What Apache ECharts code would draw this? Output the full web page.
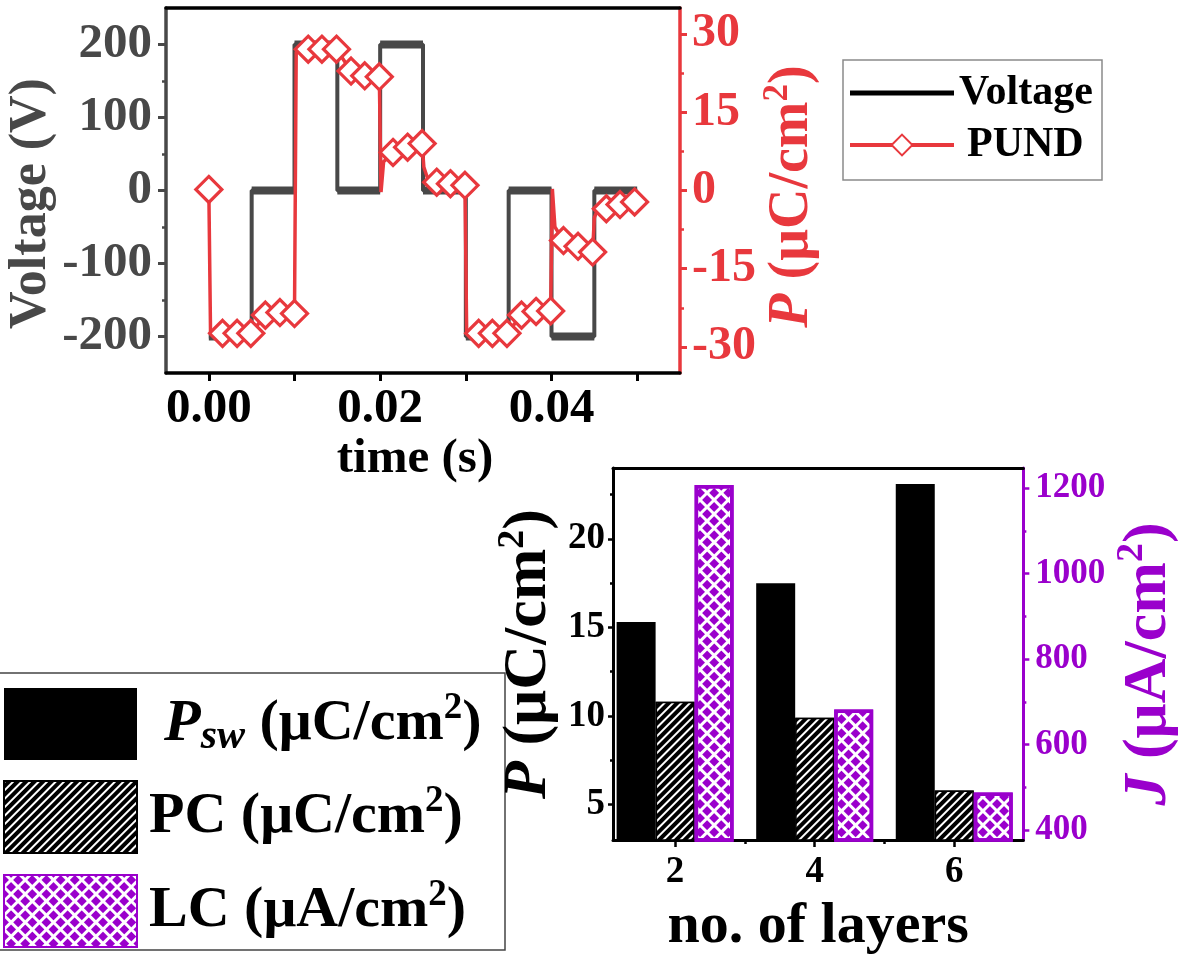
<!DOCTYPE html>
<html><head><meta charset="utf-8">
<script src="https://cdn.jsdelivr.net/npm/echarts@6/dist/echarts.min.js"></script>
<style>html,body{margin:0;padding:0;background:#fff}#c{width:1181px;height:959px}</style>
</head><body><div id="c"></div>
<script>
const FONT = 'Liberation Serif';
const GRAY = '#484848', RED = '#e8383d', PURPLE = '#9a00cc';

// ---- Top panel: PUND measurement ----
const timeTicks = [0, 0.01, 0.02, 0.03, 0.04, 0.05];
const timeLabels = [0, 0.02, 0.04];
const voltMajor = [-200, -100, 0, 100, 200];
const voltMinor = [-150, -50, 50, 150];
const polMajor = [-30, -15, 0, 15, 30];
const polMinor = [-22.5, -7.5, 7.5, 22.5];
const voltT = [0, 0.005, 0.005, 0.010, 0.010, 0.015, 0.015, 0.020, 0.020, 0.025, 0.025, 0.030, 0.030, 0.035, 0.035, 0.040, 0.040, 0.045, 0.045, 0.050];
const voltV = [-200, -200, 0, 0, 200, 200, 0, 0, 200, 200, 0, 0, -200, -200, 0, 0, -200, -200, 0, 0];
const pundT = [0, 0.0002, 0.0016, 0.0033, 0.0049, 0.0066, 0.0083, 0.0100, 0.0102, 0.0116, 0.0132, 0.0149, 0.0166, 0.0182, 0.0199, 0.0201, 0.0204, 0.0215, 0.0232, 0.0249, 0.0251, 0.0255, 0.0266, 0.0282, 0.0299, 0.0301, 0.0315, 0.0331, 0.0348, 0.0365, 0.0382, 0.0399, 0.0401, 0.0404, 0.0414, 0.0431, 0.0448, 0.0450, 0.0453, 0.0464, 0.0480, 0.0497];
const pundP = [0.2, -27.4, -27.4, -27.4, -27.4, -23.9, -23.4, -23.6, 26.6, 27.1, 27.1, 27.1, 22.9, 22.0, 21.8, -0.3, 5.5, 7.3, 8.3, 9.0, 4.5, 2.5, 1.6, 1.3, 1.0, -27.4, -27.4, -27.4, -27.4, -23.9, -23.2, -23.1, 0.3, -7.0, -9.6, -10.7, -11.8, -5.2, -4.0, -3.5, -2.7, -2.2];
const pundMark = [1,0,1,1,1,1,1,1,0,1,1,1,1,1,1,0,0,1,1,1,0,0,1,1,1,0,1,1,1,1,1,1,0,0,1,1,1,0,0,1,1,1];

// ---- Bottom panel: layers ----
const layers = [2, 4, 6];
const layerMinor = [3, 5];
const pswVals = [15.3, 17.5, 23.1];
const pcVals = [10.8, 9.9, 5.8];
const lcVals = [1207, 682, 488];
const pMajor = [5, 10, 15, 20];
const pMinor = [7.5, 12.5, 17.5, 22.5];
const jMajor = [400, 600, 800, 1000, 1200];
const jMinor = [500, 700, 900, 1100];

const chart = echarts.init(document.getElementById('c'), null, {renderer: 'canvas'});

const voltLine = voltT.map((t, i) => [t, voltV[i]]);
const voltPlateaus = [];
for (let i = 0; i < voltT.length; i += 2) {
  voltPlateaus.push([voltT[i], voltV[i]], [voltT[i + 1], voltV[i + 1]], [voltT[i + 1], '-']);
}
const pundData = pundT.map((t, i) => pundMark[i] ? [t, pundP[i]] : {value: [t, pundP[i]], symbol: 'none'});

const bold = {fontFamily: FONT, fontWeight: 'bold'};
function supRich(color, size) {
  return {
    i: Object.assign({}, bold, {fontStyle: 'italic', fontSize: size, color, lineHeight: size * 1.15}),
    t: Object.assign({}, bold, {fontSize: size, color, lineHeight: size * 1.15}),
    s: Object.assign({}, bold, {fontSize: Math.round(size * 0.62), color, lineHeight: Math.round(size * 0.62), verticalAlign: 'top'})
  };
}
function minorAxis(gridIndex, pos, min, max, vals, color, len) {
  return {gridIndex, type: 'value', position: pos, min, max,
    axisLine: {show: false, onZero: false}, splitLine: {show: false}, axisLabel: {show: false},
    axisTick: {show: true, customValues: vals, length: len, lineStyle: {color, width: 2.5}}};
}

const legendNames = {
  'Psw': '{g|}{i|P}{sub|sw}{t| (μC/cm}{sup|2}{t|)}',
  'PC': '{h|}{t|PC (μC/cm}{sup|2}{t|)}',
  'LC': '{h|}{t|LC (μA/cm}{sup|2}{t|)}'
};

const option = {
  animation: false,
  backgroundColor: '#fff',
  grid: [
    {left: 166, top: 8, width: 514, height: 365},
    {left: 613, top: 468, width: 422, height: 372}
  ],
  graphic: [
    {type: 'rect', shape: {x: 843, y: 60, width: 259, height: 120}, style: {fill: 'none', stroke: '#8a8a8a', lineWidth: 1.5}},
    {type: 'rect', shape: {x: -2, y: 673, width: 507, height: 277}, style: {fill: 'none', stroke: '#444', lineWidth: 1.5}}
  ],
  legend: [
    {orient: 'vertical', left: 848, top: 72, padding: 0, itemWidth: 104, itemHeight: 26, itemGap: 10,
      selectedMode: false,
      data: [{name: 'Voltage', icon: 'path://M0,0L100,0L100,5L0,5Z', itemStyle: {color: '#000'}},
             {name: 'PUND', lineStyle: {color: RED, width: 4}, textStyle: {padding: [0, 0, 0, 8]}}],
      textStyle: Object.assign({}, bold, {fontSize: 42, color: '#000'})},
    {orient: 'vertical', left: 3, top: 688, padding: 0, itemWidth: 133, itemHeight: 72, itemGap: 20,
      selectedMode: false, icon: 'rect',
      data: ['Psw', 'PC', 'LC'],
      formatter: n => legendNames[n],
      textStyle: Object.assign({}, bold, {fontSize: 58, color: '#000',
        rich: {
          g: {width: 22},
          h: {width: 7},
          t: Object.assign({}, bold, {fontSize: 58, color: '#000', lineHeight: 68}),
          i: Object.assign({}, bold, {fontStyle: 'italic', fontSize: 60, color: '#000', lineHeight: 68}),
          sub: Object.assign({}, bold, {fontStyle: 'italic', fontSize: 42, color: '#000', lineHeight: 40, verticalAlign: 'bottom'}),
          sup: Object.assign({}, bold, {fontSize: 37, color: '#000', lineHeight: 36, verticalAlign: 'top'})
        }})}
  ],
  xAxis: [
    {gridIndex: 0, type: 'value', position: 'bottom', min: -0.005, max: 0.055,
      axisLine: {onZero: false, lineStyle: {color: '#000', width: 3.5}},
      axisTick: {customValues: timeTicks, length: 8, lineStyle: {color: '#000', width: 3}},
      axisLabel: {customValues: timeLabels, formatter: v => v.toFixed(2), margin: 12, color: '#000', fontFamily: FONT, fontWeight: 'bold', fontSize: 49},
      splitLine: {show: false},
      name: 'time (s)', nameLocation: 'middle', nameGap: 62,
      nameTextStyle: Object.assign({}, bold, {fontSize: 49, color: '#000', padding: [0, 16, 0, 0]})},
    {gridIndex: 0, type: 'value', position: 'top', min: -0.005, max: 0.055,
      axisLine: {onZero: false, lineStyle: {color: '#000', width: 3.5}},
      axisTick: {show: false}, axisLabel: {show: false}, splitLine: {show: false}},
    {gridIndex: 1, type: 'value', position: 'bottom', min: 1.11, max: 6.99,
      axisLine: {onZero: false, lineStyle: {color: '#000', width: 3}},
      axisTick: {customValues: layers, length: 7, lineStyle: {color: '#000', width: 2.5}},
      axisLabel: {customValues: layers, margin: 14, color: '#000', fontFamily: FONT, fontWeight: 'bold', fontSize: 37},
      splitLine: {show: false},
      name: 'no. of layers', nameLocation: 'middle', nameGap: 58,
      nameTextStyle: Object.assign({}, bold, {fontSize: 58, color: '#000'})},
    minorAxis(1, 'bottom', 1.11, 6.99, layerMinor, '#000', 4),
    {gridIndex: 1, type: 'value', position: 'top', min: 1.11, max: 6.99,
      axisLine: {onZero: false, lineStyle: {color: '#000', width: 3}},
      axisTick: {show: false}, axisLabel: {show: false}, splitLine: {show: false}}
  ],
  yAxis: [
    {gridIndex: 0, type: 'value', position: 'left', min: -250, max: 250,
      axisLine: {show: true, onZero: false, lineStyle: {color: GRAY, width: 3.5}},
      axisTick: {show: true, customValues: voltMajor, length: 8, lineStyle: {color: GRAY, width: 3}},
      axisLabel: {customValues: voltMajor, margin: 14, color: GRAY, fontFamily: FONT, fontWeight: 'bold', fontSize: 49},
      splitLine: {show: false},
      name: 'Voltage (V)', nameLocation: 'middle', nameRotate: 90, nameGap: 108,
      nameTextStyle: Object.assign({}, bold, {fontSize: 52, color: GRAY, padding: [0, 26, 0, 0]})},
    {gridIndex: 0, type: 'value', position: 'right', min: -35, max: 35,
      axisLine: {show: true, onZero: false, lineStyle: {color: RED, width: 3.5}},
      axisTick: {show: true, customValues: polMajor, length: 7, lineStyle: {color: RED, width: 3}},
      axisLabel: {customValues: polMajor, margin: 12, color: RED, fontFamily: FONT, fontWeight: 'bold', fontSize: 48},
      splitLine: {show: false},
      name: '{i|P}{t| (μC/cm}{s|2}{t|)}', nameLocation: 'middle', nameRotate: 90, nameGap: 80,
      nameTextStyle: Object.assign({}, bold, {fontSize: 56, color: RED, padding: [0, 12, 0, 0], rich: supRich(RED, 56)})},
    minorAxis(0, 'left', -250, 250, voltMinor, GRAY, 4),
    minorAxis(0, 'right', -35, 35, polMinor, RED, 4),
    {gridIndex: 1, type: 'value', position: 'left', min: 3, max: 24,
      axisLine: {show: true, onZero: false, lineStyle: {color: '#000', width: 3}},
      axisTick: {show: true, customValues: pMajor, length: 5, lineStyle: {color: '#000', width: 2.5}},
      axisLabel: {customValues: pMajor, margin: 8, color: '#000', fontFamily: FONT, fontWeight: 'bold', fontSize: 37},
      splitLine: {show: false},
      name: '{i|P}{t| (μC/cm}{s|2}{t|)}', nameLocation: 'middle', nameRotate: 90, nameGap: 48,
      nameTextStyle: Object.assign({}, bold, {fontSize: 62, color: '#000', rich: supRich('#000', 62)})},
    {gridIndex: 1, type: 'value', position: 'right', min: 377, max: 1247,
      axisLine: {show: true, onZero: false, lineStyle: {color: PURPLE, width: 3}},
      axisTick: {show: true, customValues: jMajor, length: 6, lineStyle: {color: PURPLE, width: 2.5}},
      axisLabel: {customValues: jMajor, formatter: v => String(v), margin: 12, color: PURPLE, fontFamily: FONT, fontWeight: 'bold', fontSize: 35},
      splitLine: {show: false},
      name: '{i|J}{t| (μA/cm}{s|2}{t|)}', nameLocation: 'middle', nameRotate: 90, nameGap: 90,
      nameTextStyle: Object.assign({}, bold, {fontSize: 62, color: PURPLE, padding: [0, 20, 0, 0], rich: supRich(PURPLE, 62)})},
    minorAxis(1, 'left', 3, 24, pMinor, '#000', 3),
    minorAxis(1, 'right', 377, 1247, jMinor, PURPLE, 3)
  ],
  series: [
    {name: 'Voltage levels', type: 'line', xAxisIndex: 0, yAxisIndex: 0, data: voltPlateaus,
      symbol: 'none', connectNulls: false, silent: true,
      lineStyle: {color: GRAY, width: 8}, itemStyle: {color: GRAY}, z: 2},
    {name: 'Voltage', type: 'line', xAxisIndex: 0, yAxisIndex: 0, data: voltLine,
      symbol: 'none', silent: true,
      lineStyle: {color: GRAY, width: 4}, itemStyle: {color: GRAY}, z: 2},
    {name: 'PUND', type: 'line', xAxisIndex: 0, yAxisIndex: 1, data: pundData,
      symbol: 'diamond', symbolSize: 26, showSymbol: true, showAllSymbol: true, silent: true,
      lineStyle: {color: RED, width: 3.5},
      itemStyle: {color: '#fff', borderColor: RED, borderWidth: 3.2}, z: 3},
    {name: 'Psw', type: 'bar', xAxisIndex: 2, yAxisIndex: 4, barWidth: 39, barGap: '0%',
      data: layers.map((l, i) => [l, pswVals[i]]), silent: true,
      itemStyle: {color: '#000'}},
    {name: 'PC', type: 'bar', xAxisIndex: 2, yAxisIndex: 4, barWidth: 39, barGap: '0%',
      data: layers.map((l, i) => [l, pcVals[i]]), silent: true,
      itemStyle: {color: '#000', borderColor: '#000', borderWidth: 1.5,
        decal: {symbol: 'rect', color: '#fff', dashArrayX: [1, 0], dashArrayY: [2, 4], symbolSize: 1, rotation: -Math.PI / 4}}},
    {name: 'LC', type: 'bar', xAxisIndex: 2, yAxisIndex: 5, barWidth: 39, barGap: '0%',
      data: layers.map((l, i) => [l, lcVals[i]]), silent: true,
      itemStyle: {color: '#fff', borderColor: PURPLE, borderWidth: 3.5,
        decal: {symbol: 'rect', color: PURPLE, dashArrayX: [7, 2.5], dashArrayY: [7, 2.5], symbolSize: 1, rotation: Math.PI / 4}}}
  ]
};
chart.setOption(option);
</script>
</body></html>
